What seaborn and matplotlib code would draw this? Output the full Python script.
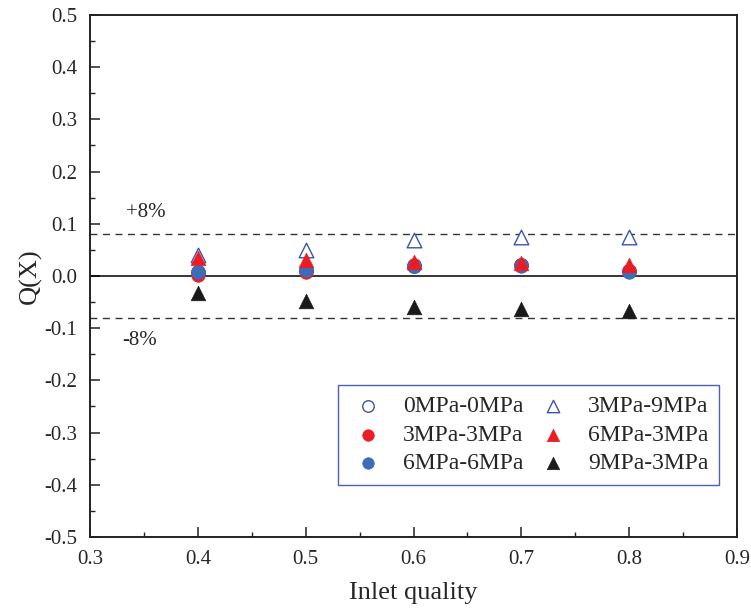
import matplotlib
matplotlib.use("Agg")
import matplotlib.pyplot as plt
import seaborn as sns
from matplotlib.ticker import MultipleLocator

# Inlet quality (x) and Q(X) values for each pressure combination
quality = [0.4, 0.5, 0.6, 0.7, 0.8]
q_0_0 = [0.008, 0.011, 0.020, 0.021, 0.009]
q_3_3 = [0.002, 0.008, 0.021, 0.021, 0.010]
q_6_6 = [0.008, 0.011, 0.019, 0.019, 0.008]
q_3_9 = [0.040, 0.050, 0.069, 0.074, 0.075]
q_6_3 = [0.034, 0.031, 0.027, 0.024, 0.021]
q_9_3 = [-0.032, -0.047, -0.059, -0.063, -0.067]

labels = ["0MPa-0MPa", "3MPa-3MPa", "6MPa-6MPa", "3MPa-9MPa", "6MPa-3MPa", "9MPa-3MPa"]
band = 0.08

sns.set_style("ticks")
plt.rcParams["font.family"] = ["Liberation Serif", "DejaVu Serif"]

fig = plt.figure(figsize=(7.51, 6.14), dpi=100)
ax = fig.add_axes([0.1198, 0.1254, 0.8616, 0.8502])

blue_edge = "#3a55a8"
red = "#ec1c24"
blue = "#3d6cb9"
black = "#1a1a1a"

styles = [
    (q_0_0, dict(marker="o", s=95, facecolor="white", edgecolor=blue_edge, linewidth=1.0)),
    (q_3_3, dict(marker="o", s=95, color=red, edgecolor=red, linewidth=0.5)),
    (q_6_6, dict(marker="o", s=95, color=blue, edgecolor=blue, linewidth=0.5)),
    (q_3_9, dict(marker="^", s=110, facecolor="white", edgecolor=blue_edge, linewidth=1.0)),
    (q_6_3, dict(marker="^", s=110, color=red, edgecolor=red, linewidth=0.5)),
    (q_9_3, dict(marker="^", s=110, color=black, edgecolor=black, linewidth=0.5)),
]

# reference lines: zero and +/-8% band
ax.axhline(0, color="black", lw=1.1, zorder=1)
ax.axhline(band, color="#333333", lw=1.0, ls=(0, (5, 4)), zorder=1)
ax.axhline(-band, color="#333333", lw=1.0, ls=(0, (5, 4)), zorder=1)

for (vals, kw), lab in zip(styles, labels):
    sns.scatterplot(x=quality, y=vals, ax=ax, label=lab, zorder=3, **kw)

ax.text(0.333, 0.122, "+8%", fontsize=15, ha="left", va="center")
ax.text(0.330, -0.124, "-8%", fontsize=15, ha="left", va="center")

ax.set_xlim(0.3, 0.9)
ax.set_ylim(-0.5, 0.5)
ax.xaxis.set_major_locator(MultipleLocator(0.1))
ax.xaxis.set_minor_locator(MultipleLocator(0.05))
ax.yaxis.set_major_locator(MultipleLocator(0.1))
ax.yaxis.set_minor_locator(MultipleLocator(0.05))
ax.set_xticklabels([f"{v:.1f}" for v in ax.get_xticks()])
ax.set_yticklabels([f"{v:.1f}" for v in ax.get_yticks()])

ax.tick_params(which="major", direction="in", length=7, width=1.1, labelsize=15, color="#222222")
ax.tick_params(which="minor", direction="in", length=3.5, width=1.0, color="#222222")
ax.tick_params(axis="x", which="major", pad=9)
ax.tick_params(axis="y", which="major", pad=9)
for sp in ax.spines.values():
    sp.set_linewidth(1.4)
    sp.set_color("#222222")

ax.set_xlabel("Inlet quality", fontsize=19, labelpad=10)
ax.set_ylabel("Q(X)", fontsize=19, labelpad=2)

leg = ax.legend(loc="lower left", bbox_to_anchor=(0.383, 0.0996),
                ncol=2, fontsize=17, frameon=True, fancybox=False, framealpha=1,
                markerscale=0.85, handlelength=1.65, handletextpad=0.65,
                columnspacing=0.45, labelspacing=0.3,
                borderpad=0.45, borderaxespad=0)
leg.get_frame().set_edgecolor("#4a62b4")
leg.get_frame().set_linewidth(1.0)

fig.savefig("out.png", dpi=100)
